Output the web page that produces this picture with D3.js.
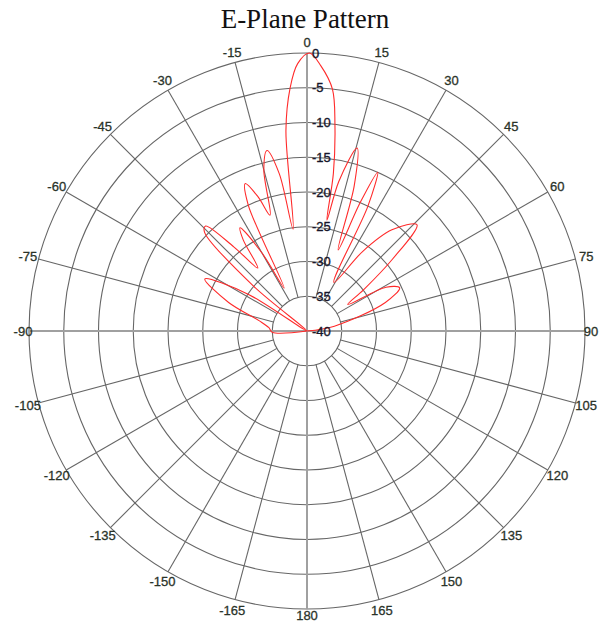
<!DOCTYPE html>
<html>
<head>
<meta charset="utf-8">
<script src="https://cdn.jsdelivr.net/npm/d3@7"></script>
<style>
  html, body { margin: 0; padding: 0; background: #fff; }
  svg { display: block; }
</style>
</head>
<body>
<svg id="chart" width="601" height="626"></svg>
<script>
// Radial grid (dB) and angular grid (degrees)
const ringLevels = [-35, -30, -25, -20, -15, -10, -5, 0];
const ringLabels = ["-40", "-35", "-30", "-25", "-20", "-15", "-10", "-5", "0"];
const ringLabelLevels = [-40, -35, -30, -25, -20, -15, -10, -5, 0];
const spokeAngles = [-165, -150, -135, -120, -105, -90, -75, -60, -45, -30, -15, 0,
                     15, 30, 45, 60, 75, 90, 105, 120, 135, 150, 165, 180];
const spokeLabels = ["-165", "-150", "-135", "-120", "-105", "-90", "-75", "-60", "-45", "-30", "-15", "0",
                     "15", "30", "45", "60", "75", "90", "105", "120", "135", "150", "165", "180"];

// Measured E-plane pattern: angle (deg) and relative gain (dB)
const patternAngles = [-180, -120, -100, -92, -85, -78, -70, -63, -58, -54, -50, -46, -44, -41, -38,
                       -35, -33, -30, -28, -25, -22.7, -20, -17.7, -15, -12.5, -10, -7.8, -6, -4, -2,
                       0.5, 3, 6, 7.7, 9.5, 10.2, 12, 15.3, 18, 21, 22.5, 24, 26, 29, 35, 40, 46,
                       50, 54, 57, 61, 65, 70, 80, 90, 100, 120, 180];
const patternGain   = [-40, -40, -40, -35, -34.5, -33, -28, -23.5, -30, -40, -30, -19.5, -19, -24, -28.5,
                       -24, -22.3, -27, -33, -20, -17, -19.5, -22.5, -16, -13.4, -17, -25.2, -11, -5, -1.5,
                       0, -1.8, -5, -10, -17, -23.8, -18, -12.7, -18, -27.5, -20, -15, -20, -32, -26, -21, -18,
                       -24, -30, -33, -27, -25.3, -28, -36, -40, -40, -40, -40];

const svg = d3.select("#chart");
const cx = 307, cy = 331, R = 278;

const r = d3.scaleLinear().domain([-40, 0]).range([0, R]).clamp(true);
const rad = d => d * Math.PI / 180;

// Title
svg.append("text")
  .attr("x", 305).attr("y", 28)
  .attr("text-anchor", "middle")
  .attr("font-family", "'Liberation Serif', 'Times New Roman', serif")
  .attr("font-size", 27)
  .attr("fill", "#111")
  .text("E-Plane Pattern");

const g = svg.append("g").attr("transform", `translate(${cx},${cy})`);

// Concentric rings
g.selectAll("circle.ring")
  .data(ringLevels)
  .join("circle")
  .attr("class", "ring")
  .attr("r", d => r(d))
  .attr("fill", "none")
  .attr("stroke", "#666")
  .attr("stroke-width", 1.1);

// Spokes from the inner ring to the rim
g.selectAll("line.spoke")
  .data(spokeAngles.filter(a => a % 90 !== 0))
  .join("line")
  .attr("class", "spoke")
  .attr("x1", a => r(-35) * Math.sin(rad(a)))
  .attr("y1", a => -r(-35) * Math.cos(rad(a)))
  .attr("x2", a => R * Math.sin(rad(a)))
  .attr("y2", a => -R * Math.cos(rad(a)))
  .attr("stroke", "#666")
  .attr("stroke-width", 1.1);

// Main axes through the centre
g.selectAll("line.axis")
  .data([0, 90])
  .join("line")
  .attr("class", "axis")
  .attr("x1", a => -R * Math.sin(rad(a)))
  .attr("y1", a => R * Math.cos(rad(a)))
  .attr("x2", a => R * Math.sin(rad(a)))
  .attr("y2", a => -R * Math.cos(rad(a)))
  .attr("stroke", "#a0a0a0")
  .attr("stroke-width", 2);

// Pattern trace
const line = d3.lineRadial()
  .angle(d => rad(d[0]))
  .radius(d => r(d[1]))
  .curve(d3.curveCatmullRom.alpha(0.5));

const pts = patternAngles.map((a, i) => [a, patternGain[i]]);
g.append("path")
  .datum(pts)
  .attr("d", line)
  .attr("fill", "none")
  .attr("stroke", "#ff2a2a")
  .attr("stroke-width", 1.1);

// dB labels along the vertical axis
g.selectAll("text.db")
  .data(ringLabelLevels)
  .join("text")
  .attr("class", "db")
  .attr("x", 5)
  .attr("y", d => -r(d))
  .attr("dy", "0.36em")
  .attr("font-family", "'Liberation Sans', Arial, sans-serif")
  .attr("font-size", 13)
  .attr("fill", "#15152a")
  .attr("stroke", "#15152a")
  .attr("stroke-width", 0.35)
  .text((d, i) => ringLabels[i]);

// Angle labels around the rim
const labelRadius = a => (Math.abs(a) === 90 || a === 180 ? R + 6 : R + 11);
g.selectAll("text.ang")
  .data(spokeAngles)
  .join("text")
  .attr("class", "ang")
  .attr("x", a => labelRadius(a) * Math.sin(rad(a)))
  .attr("y", a => -labelRadius(a) * Math.cos(rad(a)))
  .attr("dy", "0.36em")
  .attr("text-anchor", "middle")
  .attr("font-family", "'Liberation Sans', Arial, sans-serif")
  .attr("font-size", 13)
  .attr("fill", "#2a3329")
  .attr("stroke", "#2a3329")
  .attr("stroke-width", 0.3)
  .text((a, i) => spokeLabels[i]);
</script>
</body>
</html>
